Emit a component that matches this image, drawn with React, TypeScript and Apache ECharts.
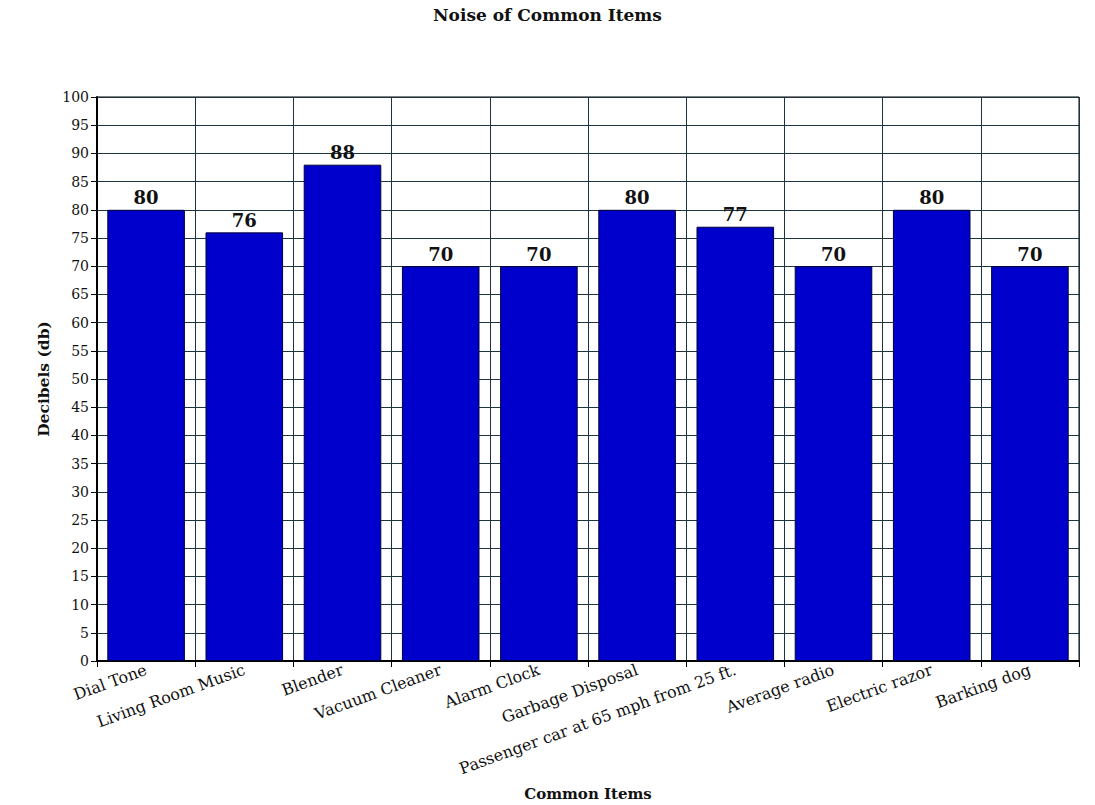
import React, { useEffect, useRef } from "react";
import * as echarts from "echarts";

const categories = [
  "Dial Tone",
  "Living Room Music",
  "Blender",
  "Vacuum Cleaner",
  "Alarm Clock",
  "Garbage Disposal",
  "Passenger car at 65 mph from 25 ft.",
  "Average radio",
  "Electric razor",
  "Barking dog",
];
const decibels = [80, 76, 88, 70, 70, 80, 77, 70, 80, 70];

const FONT = "'DejaVu Serif', 'Liberation Serif', serif";

export default function App() {
  const ref = useRef<HTMLDivElement>(null);
  useEffect(() => {
    if (!ref.current) return;
    const chart = echarts.init(ref.current, undefined, { renderer: "svg" });
    chart.setOption({
      animation: false,
      backgroundColor: "#fff",
      title: {
        text: "Noise of Common Items",
        left: "center",
        top: 1,
        textStyle: { fontFamily: FONT, fontSize: 17, fontWeight: "bold", color: "#111" },
      },
      grid: {
        left: 97,
        right: 16,
        top: 97,
        bottom: 144,
        outerBoundsMode: "none",
        containLabel: false,
        show: true,
        borderColor: "#000",
        borderWidth: 1,
        backgroundColor: "transparent",
      },
      xAxis: {
        type: "category",
        data: categories,
        name: "Common Items",
        nameLocation: "middle",
        nameGap: 125,
        nameTextStyle: { fontFamily: FONT, fontSize: 15, fontWeight: "bold", color: "#111" },
        axisLine: { lineStyle: { color: "#000", width: 2 } },
        axisTick: { show: true, length: 6, lineStyle: { color: "#000", width: 1 } },
        splitLine: { show: true, lineStyle: { color: "#1c3540", width: 1 } },
        axisLabel: {
          rotate: 20,
          interval: 0,
          margin: 8,
          fontFamily: FONT,
          fontSize: 16,
          color: "#111",
        },
      },
      yAxis: {
        type: "value",
        min: 0,
        max: 100,
        interval: 5,
        name: "Decibels (db)",
        nameLocation: "middle",
        nameGap: 44,
        nameTextStyle: { fontFamily: FONT, fontSize: 15.5, fontWeight: "bold", color: "#111" },
        axisLine: { show: true, lineStyle: { color: "#000", width: 2 } },
        axisTick: { show: true, length: 6, lineStyle: { color: "#000", width: 1 } },
        splitLine: { show: true, lineStyle: { color: "#1c3540", width: 1 } },
        axisLabel: { fontFamily: FONT, fontSize: 14, color: "#111", margin: 8 },
      },
      series: [
        {
          type: "bar",
          data: decibels,
          barCategoryGap: "21%",
          itemStyle: { color: "#0000CC", borderColor: "#00003a", borderWidth: 1 },
          label: {
            show: true,
            position: "top",
            distance: 3,
            fontFamily: FONT,
            fontSize: 18,
            fontWeight: "bold",
            color: "#111",
          },
        },
      ],
    });
    return () => chart.dispose();
  }, []);
  return (
    <div
      ref={ref}
      style={{ position: "absolute", left: 0, top: 0, width: 1095, height: 805 }}
    />
  );
}
